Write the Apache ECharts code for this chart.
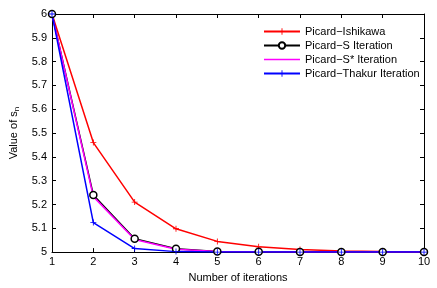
<!DOCTYPE html>
<html><head><meta charset="utf-8">
<script src="https://cdn.jsdelivr.net/npm/echarts@6/dist/echarts.min.js"></script>
<style>html,body{margin:0;padding:0;background:#fff}#c{width:437px;height:288px}</style>
</head><body><div id="c"></div>
<script>
const iterations = [1,2,3,4,5,6,7,8,9,10];
const ishikawa = [6, 5.46, 5.21, 5.098, 5.045, 5.022, 5.011, 5.005, 5.002, 5.001];
const picardS = [6, 5.24, 5.056, 5.014, 5.003, 5.001, 5.0, 5.0, 5.0, 5.0];
const picardSStar = [6, 5.233, 5.053, 5.012, 5.003, 5.001, 5.0, 5.0, 5.0, 5.0];
const thakur = [6, 5.124, 5.015, 5.002, 5.0, 5.0, 5.0, 5.0, 5.0, 5.0];
const seriesNames = ['Picard\u2212Ishikawa','Picard\u2212S Iteration','Picard\u2212S* Iteration','Picard\u2212Thakur Iteration'];

const plus = 'path://M4.3,0H5.7V4.3H10V5.7H5.7V10H4.3V5.7H0V4.3H4.3Z';
const lineIcon = 'path://M0,0H0.01V0.01H0Z M0,3.3H36V4.7H0Z M35.99,7.99H36V8H35.99Z';
const font = 'Liberation Sans, Arial, sans-serif';
const pairs = arr => iterations.map((x,i)=>[x,arr[i]]);
const chart = echarts.init(document.getElementById('c'));
const axisCommon = {
  axisLine:{show:true,onZero:false,lineStyle:{color:'#000',width:1}},
  axisTick:{show:true,inside:true,length:4,lineStyle:{color:'#000'}},
  splitLine:{show:false}
};
chart.setOption({
  animation:false,
  backgroundColor:'#fff',
  grid:{left:52,right:13,top:14,bottom:30},
  legend:{
    orient:'vertical', left:258, top:21, itemWidth:36, itemHeight:8, itemGap:3,
    textStyle:{fontFamily:font,fontSize:11,color:'#000'},
    data: [seriesNames[0], seriesNames[1], {name:seriesNames[2], icon:lineIcon}, seriesNames[3]]
  },
  xAxis:[
    Object.assign({type:'value',min:1,max:10,interval:1,position:'bottom',
      name:'Number of iterations',nameLocation:'middle',nameGap:14,
      nameTextStyle:{fontFamily:font,fontSize:11,color:'#000'},
      axisLabel:{fontFamily:font,fontSize:11,color:'#000',margin:4}},axisCommon),
    Object.assign({type:'value',min:1,max:10,interval:1,position:'top',axisLabel:{show:false}},axisCommon)
  ],
  yAxis:[
    Object.assign({type:'value',min:5,max:6,interval:0.1,position:'left',
      name:'{a|Value of s}{b|n}',nameLocation:'middle',nameGap:27,nameRotate:90,
      nameTextStyle:{rich:{a:{fontFamily:font,fontSize:11,color:'#000'},b:{fontFamily:font,fontSize:8,color:'#000',verticalAlign:'bottom',padding:[6,0,0,0]}}},
      axisLabel:{fontFamily:font,fontSize:11,color:'#000',margin:5,formatter:v=>String(+v.toFixed(1))}},axisCommon),
    Object.assign({type:'value',min:5,max:6,interval:0.1,position:'right',axisLabel:{show:false}},axisCommon)
  ],
  series:[
    {name:seriesNames[0],type:'line',data:pairs(ishikawa),color:'#ff0000',lineStyle:{width:1.5,color:'#ff0000'},symbol:plus,symbolSize:6,showAllSymbol:true},
    {name:seriesNames[1],type:'line',data:pairs(picardS),color:'#000000',lineStyle:{width:1.5,color:'#000000'},symbol:'circle',symbolSize:7,itemStyle:{color:'#fff',borderColor:'#000',borderWidth:1.5},showAllSymbol:true},
    {name:seriesNames[2],type:'line',data:pairs(picardSStar),color:'#ff00ff',lineStyle:{width:1.5,color:'#ff00ff'},itemStyle:{color:'#ff00ff'},symbol:'none'},
    {name:seriesNames[3],type:'line',data:pairs(thakur),color:'#0000ff',lineStyle:{width:1.5,color:'#0000ff'},symbol:plus,symbolSize:6,showAllSymbol:true}
  ]
});
</script></body></html>
